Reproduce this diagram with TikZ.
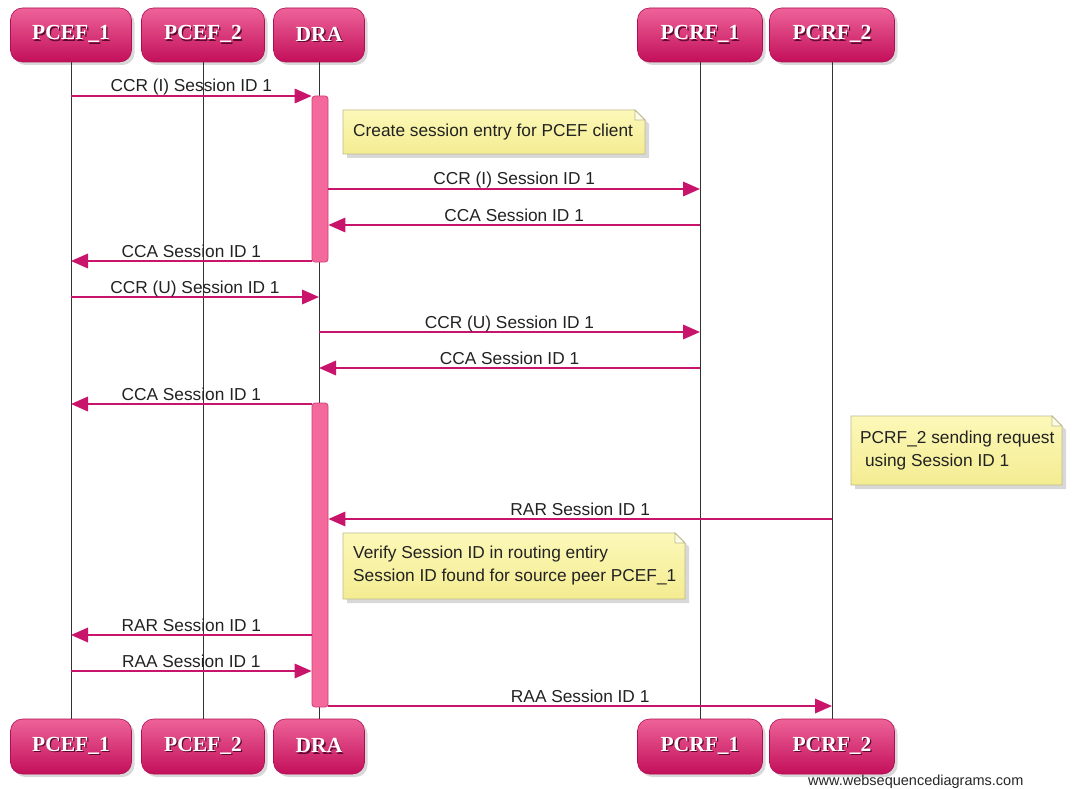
\documentclass[tikz,border=0pt]{standalone}
\usepackage{fontspec}
\setmainfont{Liberation Sans}
\newfontfamily\headfont{Liberation Serif}
\usetikzlibrary{arrows.meta,shadows}

\definecolor{arrowc}{HTML}{C8146A}
\definecolor{boxtop}{HTML}{EE6399}
\definecolor{boxbot}{HTML}{C20F5A}
\definecolor{boxedge}{HTML}{B10D52}
\definecolor{headshadow}{HTML}{5C0A30}
\definecolor{actfill}{HTML}{F3699C}
\definecolor{actedge}{HTML}{D23E78}
\definecolor{notetop}{HTML}{FCF8B8}
\definecolor{notebot}{HTML}{F4EC92}
\definecolor{noteedge}{HTML}{BEB98C}
\definecolor{labelc}{HTML}{222222}

% white serif caption with a dark offset copy underneath
\newcommand\raisedlabel[1]{\leavevmode\rlap{\kern1.3pt\raisebox{-1.3pt}{\textcolor{headshadow}{#1}}}#1}

\tikzset{
  actor/.style={rounded corners=12pt, minimum height=54pt, draw=boxedge, line width=0.6pt,
    top color=boxtop, bottom color=boxbot, text=white, inner sep=0pt,
    font=\headfont\bfseries\fontsize{21.5}{24}\selectfont,
    drop shadow={shadow xshift=3pt, shadow yshift=-3pt, opacity=0.3}},
  lifeline/.style={draw=black!80, line width=0.8pt},
  actbar/.style={draw=actedge, fill=actfill, rounded corners=3pt, minimum width=16pt,
    line width=0.8pt, inner sep=0pt},
  msg/.style={draw=arrowc, line width=1.8pt, -{Triangle[length=17pt,width=14.5pt]}},
  lbl/.style={midway, anchor=base, yshift=4pt, inner sep=0pt, text=labelc,
    font=\fontsize{17.3}{20}\selectfont},
  notebox/.style={draw=noteedge, line width=0.8pt, top color=notetop, bottom color=notebot,
    drop shadow={shadow xshift=4pt, shadow yshift=-4pt, opacity=0.3}},
  notefold/.style={draw=noteedge, line width=0.8pt, fill=white!70!notetop},
  notetext/.style={anchor=west, inner sep=0pt, align=left, text=labelc,
    font=\fontsize{17.3}{23}\selectfont},
}

\begin{document}
\begin{tikzpicture}[x=1pt,y=-1pt]
\useasboundingbox (0,0) rectangle (1079,789);
\clip (0,0) rectangle (1079,789);
\fill[white] (0,0) rectangle (1079,789);

% participants, top row
\node[actor, minimum width=121pt] (pcef1t) at (71,35) {\raisedlabel{PCEF\_1}};
\node[actor, minimum width=123pt] (pcef2t) at (203,35) {\raisedlabel{PCEF\_2}};
\node[actor, minimum width=91pt]  (drat)   at (319,35) {\raisedlabel{DRA}};
\node[actor, minimum width=125pt] (pcrf1t) at (700,35) {\raisedlabel{PCRF\_1}};
\node[actor, minimum width=125pt] (pcrf2t) at (832,35) {\raisedlabel{PCRF\_2}};

% participants, bottom row
\node[actor, minimum width=121pt, minimum height=55pt] (pcef1b) at (71,746.5) {\raisedlabel{PCEF\_1}};
\node[actor, minimum width=123pt, minimum height=55pt] (pcef2b) at (203,746.5) {\raisedlabel{PCEF\_2}};
\node[actor, minimum width=91pt, minimum height=55pt]  (drab)   at (319,746.5) {\raisedlabel{DRA}};
\node[actor, minimum width=125pt, minimum height=55pt] (pcrf1b) at (700,746.5) {\raisedlabel{PCRF\_1}};
\node[actor, minimum width=125pt, minimum height=55pt] (pcrf2b) at (832,746.5) {\raisedlabel{PCRF\_2}};

% lifelines
\draw[lifeline] (pcef1t) -- (pcef1b);
\draw[lifeline] (pcef2t) -- (pcef2b);
\draw[lifeline] (drat) -- (drab);
\draw[lifeline] (pcrf1t) -- (pcrf1b);
\draw[lifeline] (pcrf2t) -- (pcrf2b);

% activation bars on DRA
\node[actbar, minimum height=166pt] (act1) at (320,179) {};
\node[actbar, minimum height=304pt] (act2) at (320,555) {};

% message rows
\coordinate (r1) at (0,96);
\coordinate (r3) at (0,189);
\coordinate (r4) at (0,225);
\coordinate (r5) at (0,261);
\coordinate (r6) at (0,297);
\coordinate (r7) at (0,332);
\coordinate (r8) at (0,368);
\coordinate (r9) at (0,404);
\coordinate (r11) at (0,519);
\coordinate (r13) at (0,635);
\coordinate (r14) at (0,671);
\coordinate (r15) at (0,706);

\draw[msg] (pcef1t |- r1) -- node[lbl]{CCR (I) Session ID 1} (act1.west |- r1);
\draw[msg] (act1.east |- r3) -- node[lbl]{CCR (I) Session ID 1} (pcrf1t |- r3);
\draw[msg] (pcrf1t |- r4) -- node[lbl]{CCA Session ID 1} (act1.east |- r4);
\draw[msg] (act1.west |- r5) -- node[lbl]{CCA Session ID 1} (pcef1t |- r5);
\draw[msg] (pcef1t |- r6) -- node[lbl]{CCR (U) Session ID 1} (drat |- r6);
\draw[msg] (drat |- r7) -- node[lbl]{CCR (U) Session ID 1} (pcrf1t |- r7);
\draw[msg] (pcrf1t |- r8) -- node[lbl]{CCA Session ID 1} (drat |- r8);
\draw[msg] (act2.west |- r9) -- node[lbl]{CCA Session ID 1} (pcef1t |- r9);
\draw[msg] (pcrf2t |- r11) -- node[lbl]{RAR Session ID 1} (act2.east |- r11);
\draw[msg] (act2.west |- r13) -- node[lbl]{RAR Session ID 1} (pcef1t |- r13);
\draw[msg] (pcef1t |- r14) -- node[lbl]{RAA Session ID 1} (act2.west |- r14);
\draw[msg] (act2.east |- r15) -- node[lbl]{RAA Session ID 1} (pcrf2t |- r15);

% notes
\path[notebox] (343,110) -- (635,110) -- (645,120) -- (645,154) -- (343,154) -- cycle;
\path[notefold] (635,110) -- (635,120) -- (645,120) -- cycle;
\node[notetext] (note1) at (353,132) {Create session entry for PCEF client};

\path[notebox] (851,416) -- (1052,416) -- (1062,426) -- (1062,485) -- (851,485) -- cycle;
\path[notefold] (1052,416) -- (1052,426) -- (1062,426) -- cycle;
\node[notetext] (note2) at (860,450.5) {PCRF\_2 sending request\\~using Session ID 1};

\path[notebox] (343,533) -- (675,533) -- (685,543) -- (685,599) -- (343,599) -- cycle;
\path[notefold] (675,533) -- (675,543) -- (685,543) -- cycle;
\node[notetext] (note3) at (353,566) {Verify Session ID in routing entiry\\Session ID found for source peer PCEF\_1};

% footer
\node[anchor=base west, inner sep=0pt, text=black!85, font=\fontsize{14.5}{17}\selectfont]
  (footer) at (808,785.5) {www.websequencediagrams.com};
\end{tikzpicture}
\end{document}
